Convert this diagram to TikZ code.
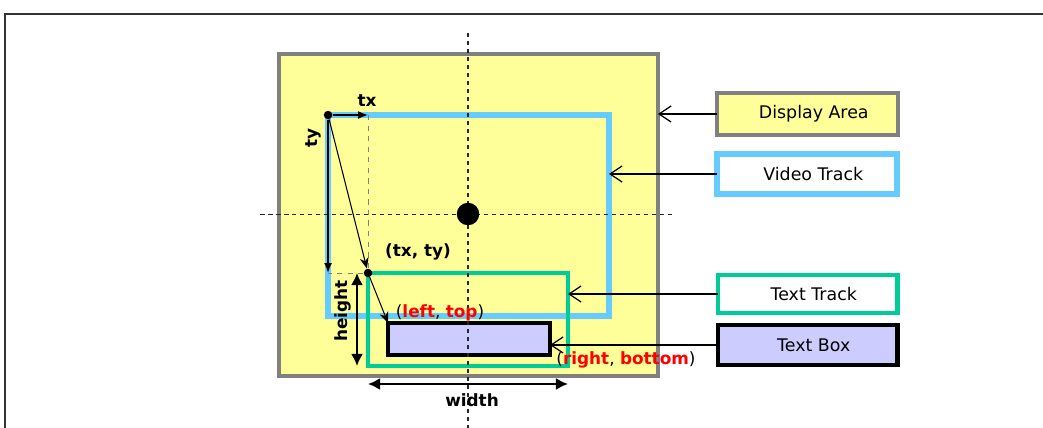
\documentclass[tikz,border=0pt]{standalone}
\usepackage{fontspec}
\setmainfont{DejaVu Sans}
\usetikzlibrary{arrows.meta,positioning}
\definecolor{areafill}{HTML}{FFFF99}
\definecolor{areaedge}{HTML}{808080}
\definecolor{videoedge}{HTML}{66CCFF}
\definecolor{trackedge}{HTML}{00CC99}
\definecolor{boxfill}{HTML}{CCCCFF}
\newcommand{\rd}[1]{\textcolor{red}{\bfseries #1}}
\newcommand{\legtext}[1]{\hspace*{0.25cm}#1}
\tikzset{
  region/.style={draw, inner sep=0pt, outer sep=0pt},
  legend/.style={draw, inner sep=0pt, outer sep=0pt, minimum width=3.6cm,
    minimum height=0.8cm, font=\fontsize{9.9}{11}\selectfont},
  lbl/.style={font=\bfseries\fontsize{9.6}{11}\selectfont, inner sep=0pt},
  dot/.style={circle, fill=black, inner sep=0pt, minimum size=1.7mm},
  pointer/.style={-{Straight Barb[length=2.4mm,width=3.2mm]}, line width=0.7pt},
  offset/.style={-{Latex[length=2mm,width=1.6mm]}, line width=0.9pt},
  slant/.style={-{Stealth[length=2.2mm,width=1.8mm]}, line width=0.6pt},
  size/.style={{Latex[length=2.4mm,width=2.4mm]}-{Latex[length=2.4mm,width=2.4mm]}, line width=1.2pt},
  guide/.style={gray, dashed, line width=0.4pt},
  axis/.style={black!85, dash pattern=on 0.9mm off 0.7mm, line width=0.7pt}
}
\begin{document}
\begin{tikzpicture}[x=0.02cm, y=-0.02cm]
  \useasboundingbox (0,0) rectangle (1043,428);
  % frame
  \draw[black!80, line width=0.9pt] (5,428) -- (5,14) -- (1043,14);

  % display area and tracks
  \node[region, draw=areaedge, fill=areafill, line width=2.3pt,
    minimum width=7.58cm, minimum height=6.44cm] (area) at (468.5,215) {};
  \node[region, draw=videoedge, line width=3.4pt,
    minimum width=5.62cm, minimum height=4.02cm] (video) at (468.5,215.5) {};
  \node[region, draw=trackedge, line width=2.3pt,
    minimum width=4.0cm, minimum height=1.86cm] (track) at (468,319.5) {};
  \node[region, draw=black, fill=boxfill, line width=2.3pt,
    minimum width=3.24cm, minimum height=0.64cm] (box) at (469,339) {};

  % centre lines
  \draw[axis] (468,33) -- (468,428);
  \draw[axis, line width=0.5pt] (260,214) -- (675,214);
  \node[circle, fill=black, inner sep=0pt, minimum size=0.45cm] (centre) at (468,214) {};

  % offsets of the text track
  \node[dot] (tl) at (video.north west) {};
  \node[dot] (tt) at (track.north west) {};
  \draw[guide] (tt |- tl) -- (tt) -- (tl |- tt);
  \draw[offset] (tl) -- (tt |- tl);
  \draw[offset] (tl) -- (tl |- tt);
  \draw[slant] (tl) -- (tt);
  \draw[slant] (tt) -- (box.north west);
  \node[lbl] (txlabel) at (367,101) {tx};
  \node[lbl, rotate=90] (tylabel) at (313,138) {ty};
  \node[lbl] (txty) at (418,252) {(tx, ty)};
  \node[lbl] (lefttop) at (440,313) {\mdseries(\rd{left}, \rd{top})};
  \node[lbl] (rightbottom) at (626,360) {\mdseries(\rd{right}, \rd{bottom})};

  % size of the text track
  \coordinate (hx) at (357,0);
  \coordinate (wy) at (0,384);
  \draw[size] (hx |- track.north) -- (hx |- track.south);
  \draw[size] (track.west |- wy) -- (track.east |- wy);
  \node[lbl, rotate=90] (heightlabel) at (343,311) {height};
  \node[lbl] (widthlabel) at (472,400) {width};

  % legend
  \node[legend, draw=areaedge, fill=areafill, line width=2.3pt,
    minimum width=3.62cm, minimum height=0.84cm] (legarea) at (807.5,114) {\legtext{Display Area}};
  \node[legend, draw=videoedge, fill=white, line width=3.4pt] (legvideo) at (807,174) {\legtext{Video Track}};
  \node[legend, draw=trackedge, fill=white, line width=2.3pt,
    minimum height=0.76cm] (legtrack) at (807.5,294) {\legtext{Text Track}};
  \node[legend, draw=black, fill=boxfill, line width=2.3pt] (legbox) at (807.5,345) {\legtext{Text Box}};
  \draw[pointer] (legarea.west) -- (area.east |- legarea.west);
  \draw[pointer] (legvideo.west) -- (video.east |- legvideo.west);
  \draw[pointer] (legtrack.west) -- (track.east |- legtrack.west);
  \draw[pointer] (legbox.west) -- (box.east |- legbox.west);
\end{tikzpicture}
\end{document}
